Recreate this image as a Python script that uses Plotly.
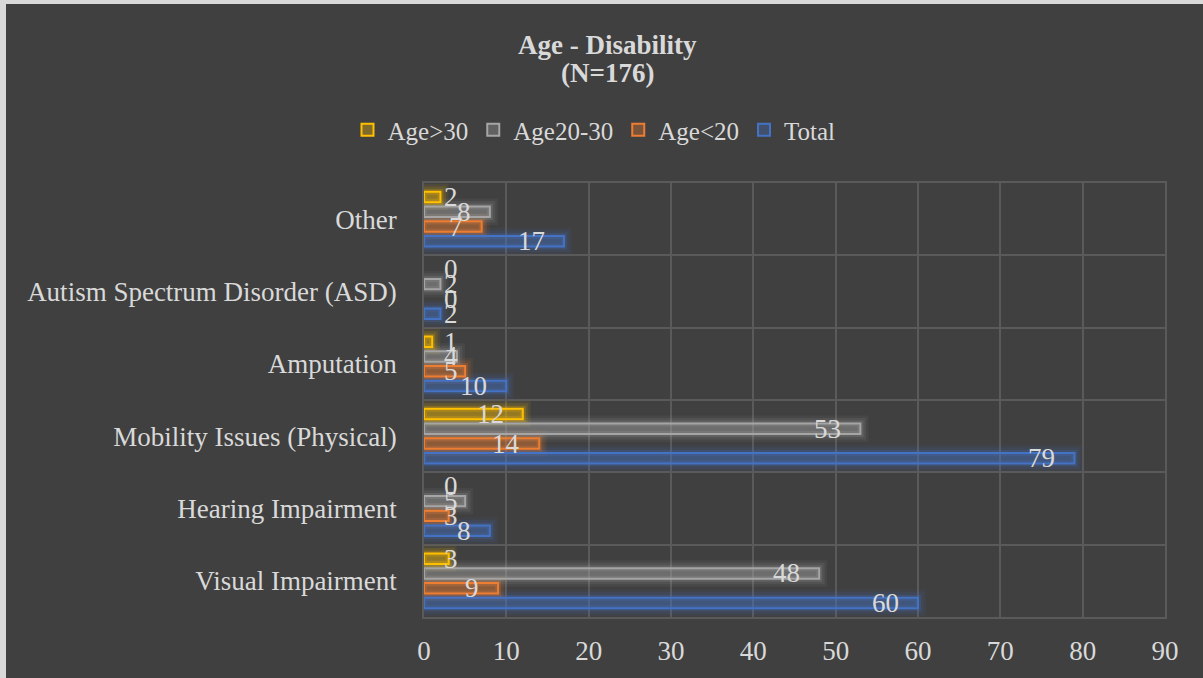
import plotly.graph_objects as go

categories = ["Visual Impairment", "Hearing Impairment", "Mobility Issues (Physical)",
              "Amputation", "Autism Spectrum Disorder (ASD)", "Other"]
total = [60, 8, 79, 10, 2, 17]
age_lt20 = [9, 3, 14, 5, 0, 7]
age_20_30 = [48, 5, 53, 4, 2, 8]
age_gt30 = [3, 0, 12, 1, 0, 2]
x_ticks = [0, 10, 20, 30, 40, 50, 60, 70, 80, 90]
title_lines = ["Age - Disability", "(N=176)"]

series = [
    ("Total", total, (68, 114, 196)),
    ("Age<20", age_lt20, (237, 125, 49)),
    ("Age20-30", age_20_30, (165, 165, 165)),
    ("Age>30", age_gt30, (255, 192, 0)),
]

W, H = 1203, 678
ML, MR, MT, MB = 424, 38, 183, 61
PW = W - ML - MR
PH = H - MT - MB
XMAX = 90
px_per_unit = PW / XMAX
band_px = PH / len(categories)

slot = 0.204
bw = 0.145
FONT = "Liberation Serif"
FS = 27
TXT = "#d9d9d9"
BG = "#404040"
GRID = "#5a5a5a"


def px_x(p):
    return (p - ML) / PW


def px_y(p):
    return (H - MB - p) / PH


fig = go.Figure()

# glow layers
for k, (name, vals, c) in enumerate(series):
    center = (k - 1.5) * slot
    shown = [v if v else None for v in vals]
    for lw, a in [(16, 0.07), (11, 0.12), (6, 0.2)]:
        fig.add_trace(go.Bar(
            y=categories, x=shown, orientation="h", name=name,
            offset=center - bw / 2, width=bw,
            marker=dict(color="rgba(0,0,0,0)",
                        line=dict(color=f"rgba({c[0]},{c[1]},{c[2]},{a})", width=lw)),
            showlegend=False, hoverinfo="skip",
        ))

for k, (name, vals, c) in enumerate(series):
    center = (k - 1.5) * slot
    shown = [v if v else None for v in vals]
    fig.add_trace(go.Bar(
        y=categories, x=shown, orientation="h", name=name,
        offset=center - bw / 2, width=bw,
        marker=dict(color=f"rgba({c[0]},{c[1]},{c[2]},0.33)",
                    line=dict(color=f"rgb({c[0]},{c[1]},{c[2]})", width=2)),
    ))

annotations = []
for k, (name, vals, c) in enumerate(series):
    yshift = (k - 1.5) * slot * band_px
    for cat, v in zip(categories, vals):
        label = str(v)
        w = 13.5 * len(label)
        if v * px_per_unit - 18 - w < 19:
            annotations.append(dict(x=0, y=cat, text=label, xanchor="left", xshift=18,
                                    yshift=yshift, showarrow=False,
                                    font=dict(family=FONT, size=FS, color=TXT)))
        else:
            annotations.append(dict(x=v, y=cat, text=label, xanchor="right", xshift=-17,
                                    yshift=yshift, showarrow=False,
                                    font=dict(family=FONT, size=FS, color=TXT)))

# title as two lines
for txt, py in zip(title_lines, [45, 73]):
    annotations.append(dict(x=px_x(607), y=px_y(py), xref="paper", yref="paper",
                            text=f"<b>{txt}</b>", showarrow=False, xanchor="center",
                            yanchor="middle", font=dict(family=FONT, size=FS, color=TXT)))

# light border strips at top and left of the image
shapes = [
    dict(type="rect", xref="paper", yref="paper", layer="above",
         x0=px_x(0), x1=px_x(6), y0=px_y(H), y1=px_y(0),
         fillcolor="#d9d9d9", line=dict(width=0)),
    dict(type="rect", xref="paper", yref="paper", layer="above",
         x0=px_x(0), x1=px_x(W), y0=px_y(4), y1=px_y(0),
         fillcolor="#d9d9d9", line=dict(width=0)),
]

fig.update_layout(
    width=W, height=H,
    margin=dict(l=ML, r=MR, t=MT, b=MB),
    paper_bgcolor=BG, plot_bgcolor=BG,
    barmode="overlay",
    font=dict(family=FONT, size=FS, color=TXT),
    legend=dict(orientation="h", x=px_x(594), xref="paper", xanchor="center", y=px_y(130),
                yanchor="middle", traceorder="reversed", itemwidth=30,
                font=dict(family=FONT, size=25, color=TXT), bgcolor="rgba(0,0,0,0)"),
    xaxis=dict(range=[0, XMAX], tickvals=x_ticks, showgrid=True, gridcolor=GRID, gridwidth=1.5,
               zeroline=False, showline=True, linecolor=GRID, linewidth=1.5, mirror=True,
               tickfont=dict(family=FONT, size=FS, color=TXT), ticklabelstandoff=9, fixedrange=True),
    yaxis=dict(categoryorder="array", categoryarray=categories, tickson="boundaries",
               showgrid=True, gridcolor=GRID, gridwidth=1.5, showline=True, linecolor=GRID,
               linewidth=1.5, mirror=True, ticks="", ticklabelstandoff=20,
               tickfont=dict(family=FONT, size=FS, color=TXT), range=[-0.5, 5.5]),
    annotations=annotations,
    shapes=shapes,
    showlegend=True,
)

fig.write_html("out.html")
